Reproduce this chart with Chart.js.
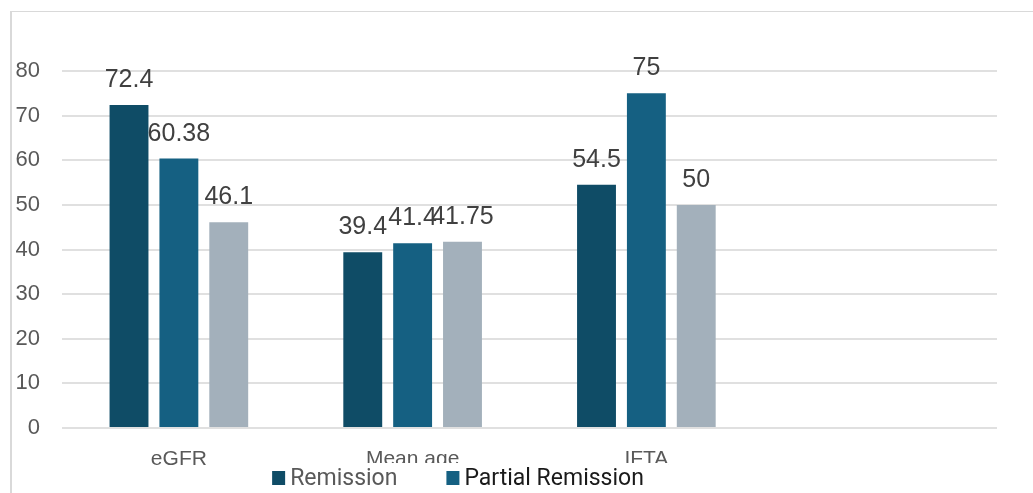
<!DOCTYPE html>
<html>
<head>
<meta charset="utf-8">
<script src="https://cdn.jsdelivr.net/npm/chart.js@4"></script>
<style>
  html, body { margin: 0; padding: 0; background: #fff; overflow: hidden; }
  #wrap { position: relative; width: 1033px; height: 493px; }
  #frame { position: absolute; left: 10px; top: 11px; width: 1100px; height: 600px;
           border-left: 2px solid #d9d9d9; border-top: 1px solid #d9d9d9; box-sizing: border-box; }
  canvas { position: absolute; left: 0; top: 0; }
</style>
</head>
<body>
<div id="wrap">
  <div id="frame"></div>
  <canvas id="c" width="1033" height="493"></canvas>
</div>
<script>
// Categories (the last slot is an empty placeholder column)
const categories = ["eGFR", "Mean age", "IFTA", ""];

// Series values
const remission        = [72.4, 39.4, 54.5, null];
const partialRemission = [60.38, 41.4, 75, null];
const noRemission      = [46.1, 41.75, 50, null];

const seriesLabels = ["Remission", "Partial Remission", "No Remission"];
const seriesColors = ["#0f4c66", "#156082", "#a3b0bb"];
const legendTextColors = ["#595959", "#1a1a1a", "#595959"];

// Value axis ticks
const yTicks = [0, 10, 20, 30, 40, 50, 60, 70, 80];

// Draws the value above each bar
const valueLabels = {
  id: "valueLabels",
  afterDatasetsDraw(chart) {
    const ctx = chart.ctx;
    ctx.save();
    ctx.font = '25px "Liberation Sans", Arial, sans-serif';
    ctx.fillStyle = "#404040";
    ctx.textAlign = "center";
    ctx.textBaseline = "alphabetic";
    chart.data.datasets.forEach((ds, di) => {
      const meta = chart.getDatasetMeta(di);
      meta.data.forEach((bar, i) => {
        const v = ds.data[i];
        if (v === null || v === undefined) return;
        ctx.fillText(String(v), bar.x, bar.y - 18);
      });
    });
    ctx.restore();
  }
};

// Bottom legend on a white panel, wrapping onto extra rows when it runs out of width
const bottomLegend = {
  id: "bottomLegend",
  afterDraw(chart) {
    const ctx = chart.ctx;
    const font = '23px Roboto, "Liberation Sans", sans-serif';
    const box = 13, gap = 5, itemGap = 49, maxRow = 430, centerX = 458, rowH = 30;
    const firstRowY = 485;
    ctx.save();
    ctx.fillStyle = "#ffffff";
    ctx.fillRect(262, 463, 406, 40);
    ctx.font = font;
    ctx.textBaseline = "alphabetic";
    ctx.textAlign = "left";
    // lay items out in rows
    const rows = [[]];
    let rowW = 0;
    chart.data.datasets.forEach((ds, i) => {
      const w = box + gap + ctx.measureText(ds.label).width;
      const cur = rows[rows.length - 1];
      const add = cur.length ? itemGap + w : w;
      if (cur.length && rowW + add > maxRow) {
        rows.push([{ i, w }]);
        rowW = w;
      } else {
        cur.push({ i, w });
        rowW += add;
      }
    });
    rows.forEach((row, r) => {
      const total = row.reduce((s, it) => s + it.w, 0) + itemGap * (row.length - 1);
      let x = centerX - total / 2;
      const y = firstRowY + r * rowH;
      row.forEach(it => {
        const ds = chart.data.datasets[it.i];
        ctx.fillStyle = ds.backgroundColor;
        ctx.fillRect(x, y - 14, box, 14);
        ctx.fillStyle = legendTextColors[it.i];
        ctx.fillText(ds.label, x + box + gap, y);
        x += it.w + itemGap;
      });
    });
    ctx.restore();
  }
};

new Chart(document.getElementById("c"), {
  type: "bar",
  data: {
    labels: categories,
    datasets: [
      { label: seriesLabels[0], data: remission,        backgroundColor: seriesColors[0] },
      { label: seriesLabels[1], data: partialRemission, backgroundColor: seriesColors[1] },
      { label: seriesLabels[2], data: noRemission,      backgroundColor: seriesColors[2] }
    ]
  },
  options: {
    responsive: false,
    animation: false,
    devicePixelRatio: 1,
    layout: { padding: { top: 71, right: 36, bottom: 0, left: 0 } },
    datasets: { bar: { categoryPercentage: 0.64, barPercentage: 0.78 } },
    plugins: { legend: { display: false }, tooltip: { enabled: false } },
    scales: {
      x: {
        grid: { display: false, drawTicks: false },
        border: { display: false },
        ticks: {
          color: "#595959",
          font: { family: '"Liberation Sans", Arial, sans-serif', size: 21 },
          padding: 19,
          maxRotation: 0,
          autoSkip: false
        },
        afterFit(scale) { scale.height = 65; }
      },
      y: {
        min: 0,
        max: 80,
        afterBuildTicks(scale) { scale.ticks = yTicks.map(v => ({ value: v })); },
        grid: { color: "#e0e0e0", lineWidth: 2, drawTicks: false },
        border: { display: false },
        ticks: {
          color: "#595959",
          font: { family: '"Liberation Sans", Arial, sans-serif', size: 22 },
          padding: 22
        },
        afterFit(scale) { scale.width = 62; }
      }
    }
  },
  plugins: [valueLabels, bottomLegend]
});
</script>
</body>
</html>
